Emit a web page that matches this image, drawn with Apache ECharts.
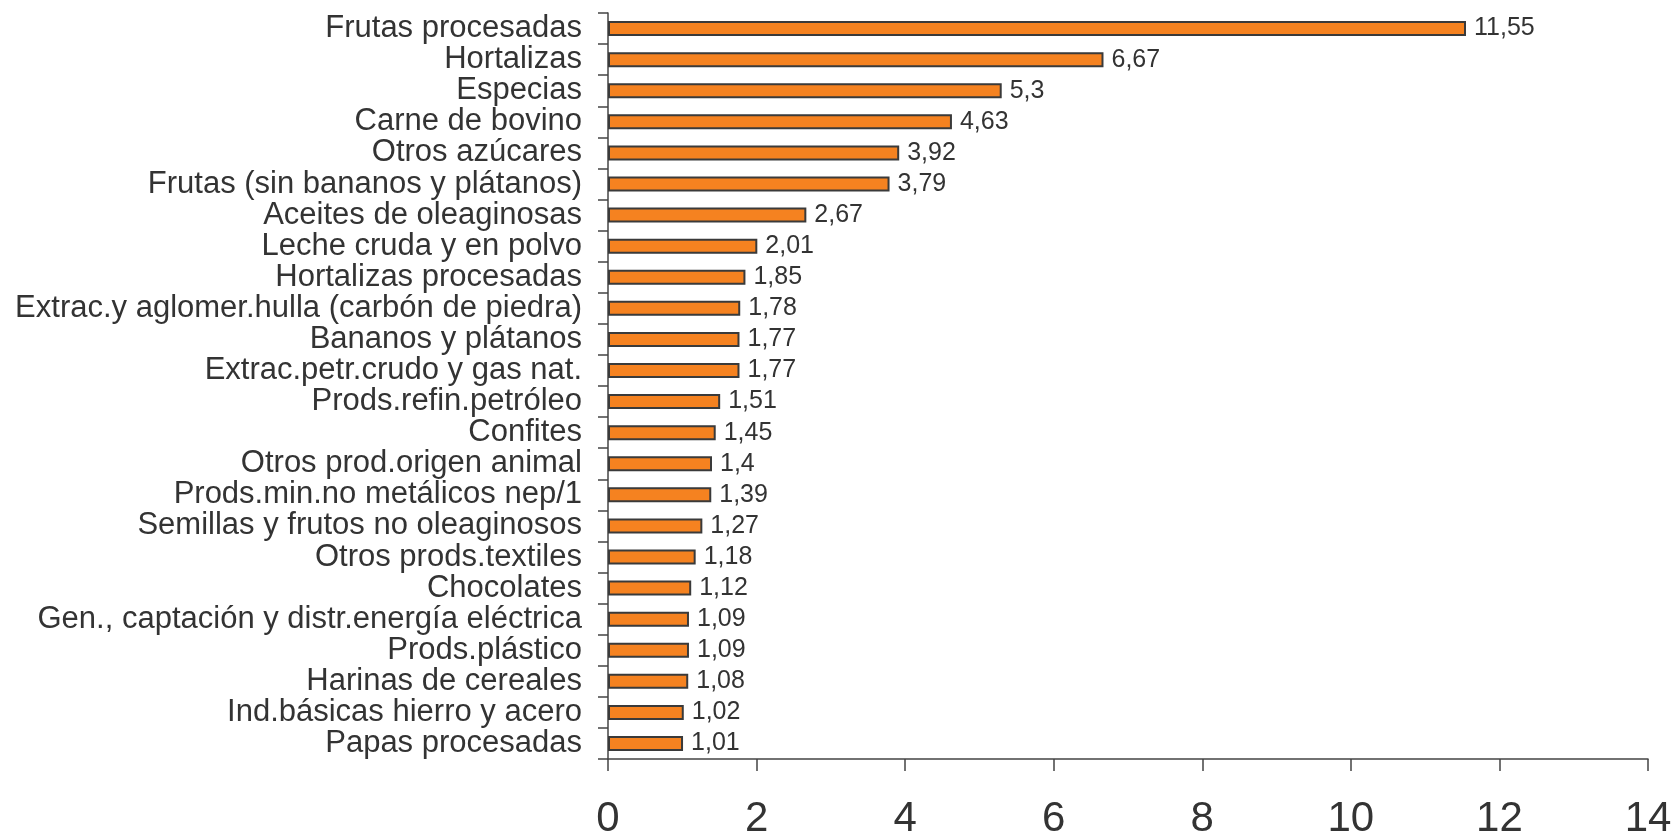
<!DOCTYPE html>
<html><head><meta charset="utf-8">
<script src="https://cdn.jsdelivr.net/npm/echarts@6/dist/echarts.min.js"></script>
<style>html,body{margin:0;padding:0;background:#fff}#c{width:1675px;height:836px}</style>
</head><body><div id="c"></div>
<script>
const categories = ["Frutas procesadas","Hortalizas","Especias","Carne de bovino","Otros azúcares","Frutas (sin bananos y plátanos)","Aceites de oleaginosas","Leche cruda y en polvo","Hortalizas procesadas","Extrac.y aglomer.hulla (carbón de piedra)","Bananos y plátanos","Extrac.petr.crudo y gas nat.","Prods.refin.petróleo","Confites","Otros prod.origen animal","Prods.min.no metálicos nep/1","Semillas y frutos no oleaginosos","Otros prods.textiles","Chocolates","Gen., captación y distr.energía eléctrica","Prods.plástico","Harinas de cereales","Ind.básicas hierro y acero","Papas procesadas"];
const values = [11.55,6.67,5.3,4.63,3.92,3.79,2.67,2.01,1.85,1.78,1.77,1.77,1.51,1.45,1.4,1.39,1.27,1.18,1.12,1.09,1.09,1.08,1.02,1.01];
const xTicks = [0,2,4,6,8,10,12,14];

const chart = echarts.init(document.getElementById('c'));
const txt = '#333333';
chart.setOption({
  animation:false,
  grid:{left:608,right:27,top:13,bottom:77,containLabel:false,outerBoundsMode:'none'},
  xAxis:{type:'value',min:0,max:14,interval:2,
    axisLine:{show:true,lineStyle:{color:'#444',width:1.5}},
    axisTick:{show:true,length:12,lineStyle:{color:'#444',width:1.5}},
    splitLine:{show:false},
    axisLabel:{color:txt,fontSize:42,fontFamily:'Liberation Sans, Arial',margin:39,
      formatter:v=>xTicks.includes(v)?String(v):''}
  },
  yAxis:{type:'category',data:categories,inverse:true,
    axisLine:{show:true,lineStyle:{color:'#444',width:1.5}},
    axisTick:{show:true,length:10,interval:0,lineStyle:{color:'#444',width:1.5}},
    axisLabel:{color:txt,fontSize:31,interval:0,fontFamily:'Liberation Sans, Arial',margin:26}
  },
  series:[{type:'bar',data:values,barWidth:15,
    itemStyle:{color:'#F58220',borderColor:'#3a3a3a',borderWidth:2},
    label:{show:true,position:'right',distance:8,color:txt,fontSize:25,fontFamily:'Liberation Sans, Arial',
      formatter:p=>String(p.value).replace('.',',')}
  }]
});
</script></body></html>
